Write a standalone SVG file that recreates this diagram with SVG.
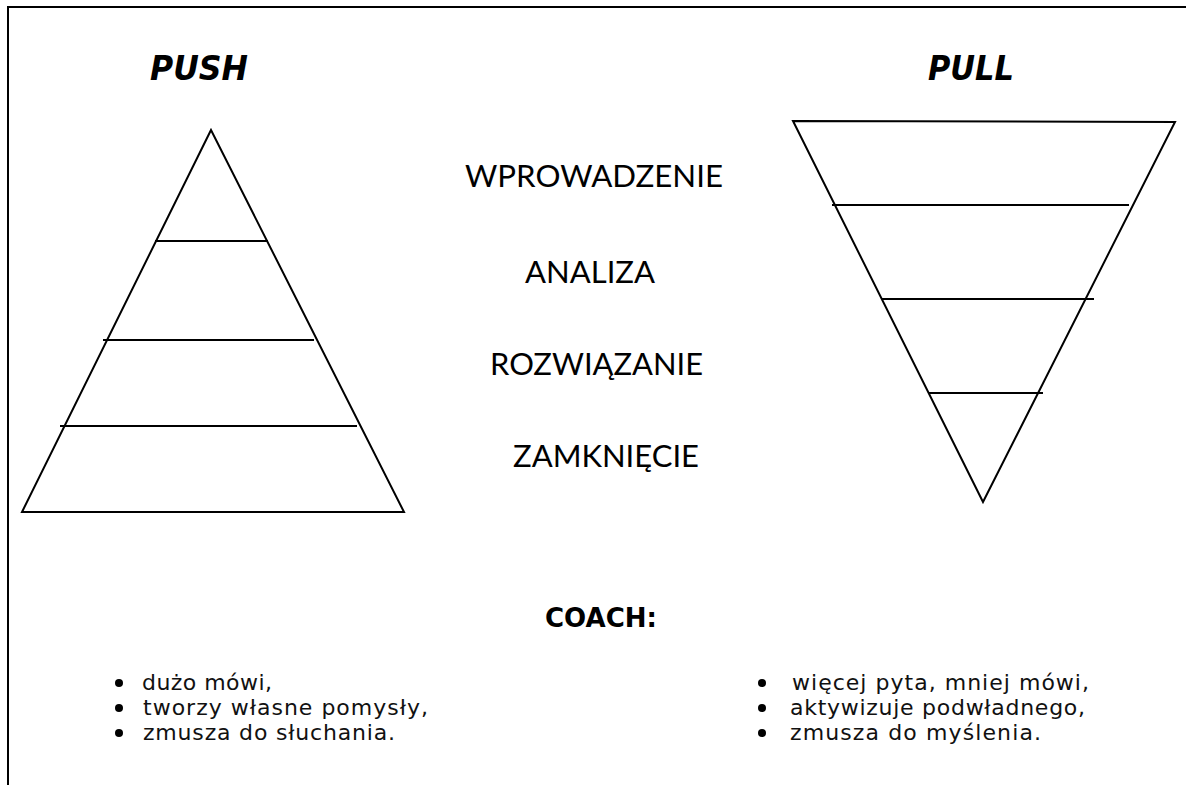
<svg xmlns="http://www.w3.org/2000/svg" width="1186" height="785" viewBox="0 0 1186 785">
<style>
.ln{stroke:#000;stroke-width:2;fill:none;stroke-linecap:butt}
.title{font-family:"DejaVu Sans",Verdana,sans-serif;font-weight:bold;font-style:italic;font-size:33px;fill:#000}
.stage{font-family:Lato,"Open Sans",sans-serif;font-size:30px;fill:#000}
.head{font-family:"DejaVu Sans",Verdana,sans-serif;font-weight:bold;font-size:26px;fill:#000}
.item{font-family:"DejaVu Sans",Verdana,sans-serif;font-size:22px;fill:#111}
.dot{fill:#000}
</style>
<rect width="1186" height="785" fill="#fff"/>
<g id="frame">
<polyline class="ln" points="8,785 8,7 1186,7"/>
</g>
<g id="push">
<text class="title" x="150" y="80" textLength="98" lengthAdjust="spacingAndGlyphs">PUSH</text>
<polygon class="ln" points="211,130 22,512 404,512"/>
<line class="ln" x1="155" y1="241" x2="268" y2="241"/>
<line class="ln" x1="103" y1="340" x2="314" y2="340"/>
<line class="ln" x1="60" y1="426" x2="357" y2="426"/>
</g>
<g id="pull">
<text class="title" x="928" y="80" textLength="86" lengthAdjust="spacingAndGlyphs">PULL</text>
<polygon class="ln" points="793,121 1175,122 983,502"/>
<line class="ln" x1="832" y1="205" x2="1129" y2="205"/>
<line class="ln" x1="882" y1="299" x2="1094" y2="299"/>
<line class="ln" x1="928" y1="393" x2="1043" y2="393"/>
</g>
<g id="stages">
<text class="stage" x="465" y="187" textLength="258" lengthAdjust="spacingAndGlyphs">WPROWADZENIE</text>
<text class="stage" x="525" y="283" textLength="130" lengthAdjust="spacingAndGlyphs">ANALIZA</text>
<text class="stage" x="490" y="375" textLength="213" lengthAdjust="spacingAndGlyphs">ROZWIĄZANIE</text>
<text class="stage" x="513" y="467" textLength="186" lengthAdjust="spacingAndGlyphs">ZAMKNIĘCIE</text>
</g>
<g id="coach">
<text class="head" x="545" y="627" textLength="112" lengthAdjust="spacingAndGlyphs">COACH:</text>
</g>
<g id="push-list">
<circle class="dot" cx="119" cy="683" r="4"/>
<circle class="dot" cx="119" cy="708" r="4"/>
<circle class="dot" cx="119" cy="733" r="4"/>
<text class="item" x="142" y="690" textLength="130" lengthAdjust="spacing">dużo mówi,</text>
<text class="item" x="143" y="715" textLength="285" lengthAdjust="spacing">tworzy własne pomysły,</text>
<text class="item" x="143" y="740" textLength="252" lengthAdjust="spacing">zmusza do słuchania.</text>
</g>
<g id="pull-list">
<circle class="dot" cx="762" cy="683" r="4"/>
<circle class="dot" cx="762" cy="708" r="4"/>
<circle class="dot" cx="762" cy="733" r="4"/>
<text class="item" x="792" y="690" textLength="297" lengthAdjust="spacing">więcej pyta, mniej mówi,</text>
<text class="item" x="790" y="715" textLength="295" lengthAdjust="spacing">aktywizuje podwładnego,</text>
<text class="item" x="790" y="740" textLength="251" lengthAdjust="spacing">zmusza do myślenia.</text>
</g>
</svg>
